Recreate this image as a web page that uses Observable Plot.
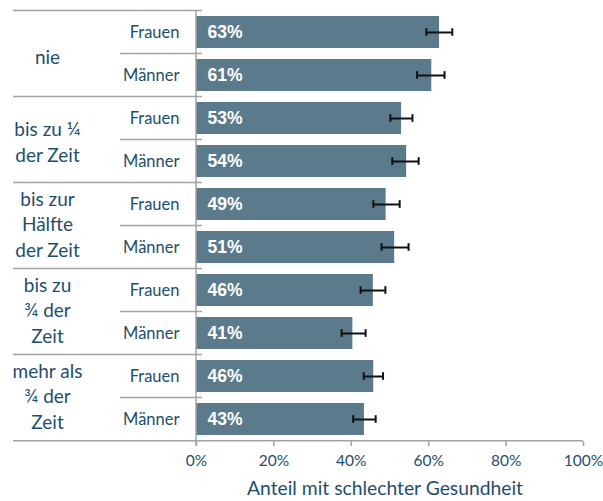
<!DOCTYPE html>
<html>
<head>
<meta charset="utf-8">
<script src="https://cdn.jsdelivr.net/npm/d3@7"></script>
<script src="https://cdn.jsdelivr.net/npm/@observablehq/plot@0.6"></script>
<style>
  body { margin: 0; background: #fff; }
  #chart svg { font-family: Lato, "Open Sans", sans-serif; }
</style>
</head>
<body>
<div id="chart"></div>
<script>
// ---- data ----
const groupLabels = ["nie", "bis zu ¼\nder Zeit", "bis zur\nHälfte\nder Zeit", "bis zu\n¾ der\nZeit", "mehr als\n¾ der\nZeit"];
const sexes = ["Frauen", "Männer"];
const values = [62.8, 60.8, 53.0, 54.3, 49.0, 51.2, 45.7, 40.4, 45.8, 43.4];
const valueLabels = ["63%", "61%", "53%", "54%", "49%", "51%", "46%", "41%", "46%", "43%"];
const errLow = [59.4, 57.0, 50.1, 50.6, 45.7, 47.8, 42.4, 37.5, 43.2, 40.5];
const errHigh = [66.1, 64.1, 55.8, 57.4, 52.5, 54.8, 48.8, 43.7, 48.2, 46.3];
const xTicks = [0, 20, 40, 60, 80, 100];
const xTitle = "Anteil mit schlechter Gesundheit";

// ---- table built from arrays ----
const rows = [];
groupLabels.forEach((g, gi) => sexes.forEach((s, si) => {
  const i = gi * 2 + si;
  rows.push({key: gi + "|" + s, group: gi, sex: s, v: values[i], label: valueLabels[i], lo: errLow[i], hi: errHigh[i]});
}));
const groupRows = groupLabels.map((g, gi) => ({key: gi + "|" + sexes[0], label: g, n: g.split("\n").length}));

const W = 603, H = 501, mTop = 10, mBottom = 60, mLeft = 196, mRight = 20;
const pIn = 0.25, pOut = 0.125;
const step = (H - mTop - mBottom) / (rows.length - pIn + 2 * pOut);
const bw = step * (1 - pIn);

const textColor = "#1f4e6b";
const barColor = "#5b7b8c";
const lineColor = "#a3a3a3";

const dyByLines = {1: 2, 2: 1, 3: -3};
const groupTextMarks = [1, 2, 3].map(n =>
  Plot.text(groupRows.filter(d => d.n === n), {x: 0, y: "key", text: "label", dx: -149, dy: step / 2 + dyByLines[n],
    textAnchor: "middle", fill: textColor, fontSize: 19, lineHeight: 1.34}));

const plot = Plot.plot({
  width: W, height: H,
  marginTop: mTop, marginBottom: mBottom, marginLeft: mLeft, marginRight: mRight,
  style: {fontFamily: "Lato, 'Open Sans', sans-serif", color: textColor, background: "#fff"},
  x: {domain: [0, 100], ticks: xTicks, tickFormat: d => d + "%"},
  y: {type: "band", domain: rows.map(d => d.key), paddingInner: pIn, paddingOuter: pOut, axis: null},
  marks: [
    Plot.barX(rows, {x: "v", y: "key", fill: barColor}),
    Plot.ruleY(rows, {x1: "lo", x2: "hi", y: "key", stroke: "#111", strokeWidth: 2}),
    Plot.tickX(rows, {x: "lo", y: "key", stroke: "#111", strokeWidth: 2, insetTop: bw / 2 - 4, insetBottom: bw / 2 - 4}),
    Plot.tickX(rows, {x: "hi", y: "key", stroke: "#111", strokeWidth: 2, insetTop: bw / 2 - 4, insetBottom: bw / 2 - 4}),
    Plot.text(rows, {x: 0, y: "key", text: "label", dx: 11, textAnchor: "start", fill: "#fff",
      fontWeight: "bold", fontSize: 17.5, fontFamily: "'Liberation Sans', Arial, sans-serif"}),
    Plot.text(rows, {x: 0, y: "key", text: "sex", dx: -17, textAnchor: "end", fill: textColor, fontSize: 16.5}),
    ...groupTextMarks,
    Plot.axisX({ticks: xTicks, tickFormat: d => d + "%", tickSize: 5, tickPadding: 8, stroke: lineColor,
      strokeWidth: 1.5, fontSize: 15.5, fill: textColor, label: null}),
    Plot.text([xTitle], {frameAnchor: "bottom", dy: 53, dx: -5, fill: textColor, fontSize: 19.3})
  ]
});
document.getElementById("chart").appendChild(plot);

// ---- decorative table lines, computed from the y scale ----
const ys = plot.scale("y");
const off = (step - bw) / 2;
const rowTop = k => ys.apply(k) - off;
const svg = d3.select(plot);
const g = svg.append("g").attr("stroke", lineColor).attr("stroke-width", 1.5);
rows.forEach((r, i) => {
  const y = rowTop(r.key);
  const x1 = r.sex === sexes[0] ? 13 : 120;
  g.append("line").attr("x1", x1).attr("x2", mLeft + 6).attr("y1", y).attr("y2", y);
});
const yBottom = rowTop(rows[rows.length - 1].key) + step;
g.append("line").attr("x1", 13).attr("x2", W - mRight).attr("y1", yBottom).attr("y2", yBottom);
g.append("line").attr("x1", mLeft).attr("x2", mLeft).attr("y1", rowTop(rows[0].key)).attr("y2", yBottom + 5);
</script>
</body>
</html>
